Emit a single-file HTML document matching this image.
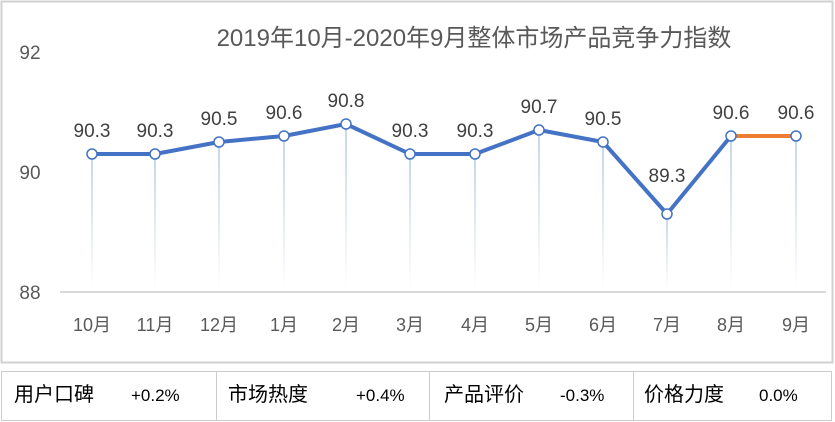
<!DOCTYPE html>
<html><head><meta charset="utf-8"><style>
body{margin:0;width:835px;height:422px;background:#fff;overflow:hidden;font-family:"Liberation Sans","Noto Sans CJK SC",sans-serif}
.tb{position:absolute;top:371px;left:1px;width:829px;height:48px;border:1px solid #ccc}
.tb i{position:absolute;top:0;width:1px;height:48px;background:#ccc}
.tb b{position:absolute;top:11px;font-weight:normal;font-size:20px;color:#000;white-space:nowrap;line-height:24px}
.tb s{position:absolute;top:13px;text-decoration:none;font-size:17px;color:#000;white-space:nowrap;line-height:22px}
</style></head><body>
<svg width="835" height="370" style="position:absolute;left:0;top:0" font-family="Liberation Sans, Noto Sans CJK SC, sans-serif">
<defs><linearGradient id="g" x1="0" y1="0" x2="0" y2="1"><stop offset="0" stop-color="#c5d5ea"/><stop offset="1" stop-color="#c5d5ea" stop-opacity="0"/></linearGradient></defs>
<rect x="1.5" y="1.5" width="831" height="361" fill="none" stroke="#d0d0d0" stroke-width="2"/>
<text x="474" y="46" font-size="24" fill="#595959" text-anchor="middle">2019年10月-2020年9月整体市场产品竞争力指数</text>
<g font-size="19" fill="#595959" text-anchor="middle"><text x="30" y="59">92</text><text x="30" y="179">90</text><text x="30" y="299">88</text></g>
<line x1="60" y1="292" x2="826" y2="292" stroke="#d9d9d9" stroke-width="2"/>
<g id="d"></g>
</svg>
<div class="tb">
<b style="left:12px">用户口碑</b><s style="left:129px">+0.2%</s><i style="left:214px"></i>
<b style="left:226px">市场热度</b><s style="left:354px">+0.4%</s><i style="left:427px"></i>
<b style="left:442px">产品评价</b><s style="left:558px">-0.3%</s><i style="left:631px"></i>
<b style="left:642px">价格力度</b><s style="left:757px">0.0%</s>
</div>
<script>
var xs=[92,155,219,284,346,410,475,539,603,667,731,796],v=[90.3,90.3,90.5,90.6,90.8,90.3,90.3,90.7,90.5,89.3,90.6,90.6],m=["10月","11月","12月","1月","2月","3月","4月","5月","6月","7月","8月","9月"];
var s="",p="";
for(var i=0;i<12;i++){var y=172-(v[i]-90)*60;
s+='<rect x="'+(xs[i]-1)+'" y="'+y+'" width="2" height="'+(290-y)+'" fill="url(#g)"/>';
s+='<text x="'+xs[i]+'" y="'+(y-(i==9?32:17))+'" font-size="19" fill="#404040" text-anchor="middle">'+v[i]+'</text>';
s+='<text x="'+xs[i]+'" y="331" font-size="18" fill="#595959" text-anchor="middle">'+m[i]+'</text>';
if(i<11)p+=xs[i]+','+y+' ';}
s+='<polyline points="'+p+'" fill="none" stroke="#4472c4" stroke-width="4" stroke-linejoin="round"/>';
s+='<line x1="731" y1="136" x2="796" y2="136" stroke="#ed7d31" stroke-width="4"/>';
for(var i=0;i<12;i++){var y=172-(v[i]-90)*60;s+='<circle cx="'+xs[i]+'" cy="'+y+'" r="5" fill="#fff" stroke="#4472c4" stroke-width="1.5"/>';}
document.getElementById("d").innerHTML=s;
</script>
</body></html>
